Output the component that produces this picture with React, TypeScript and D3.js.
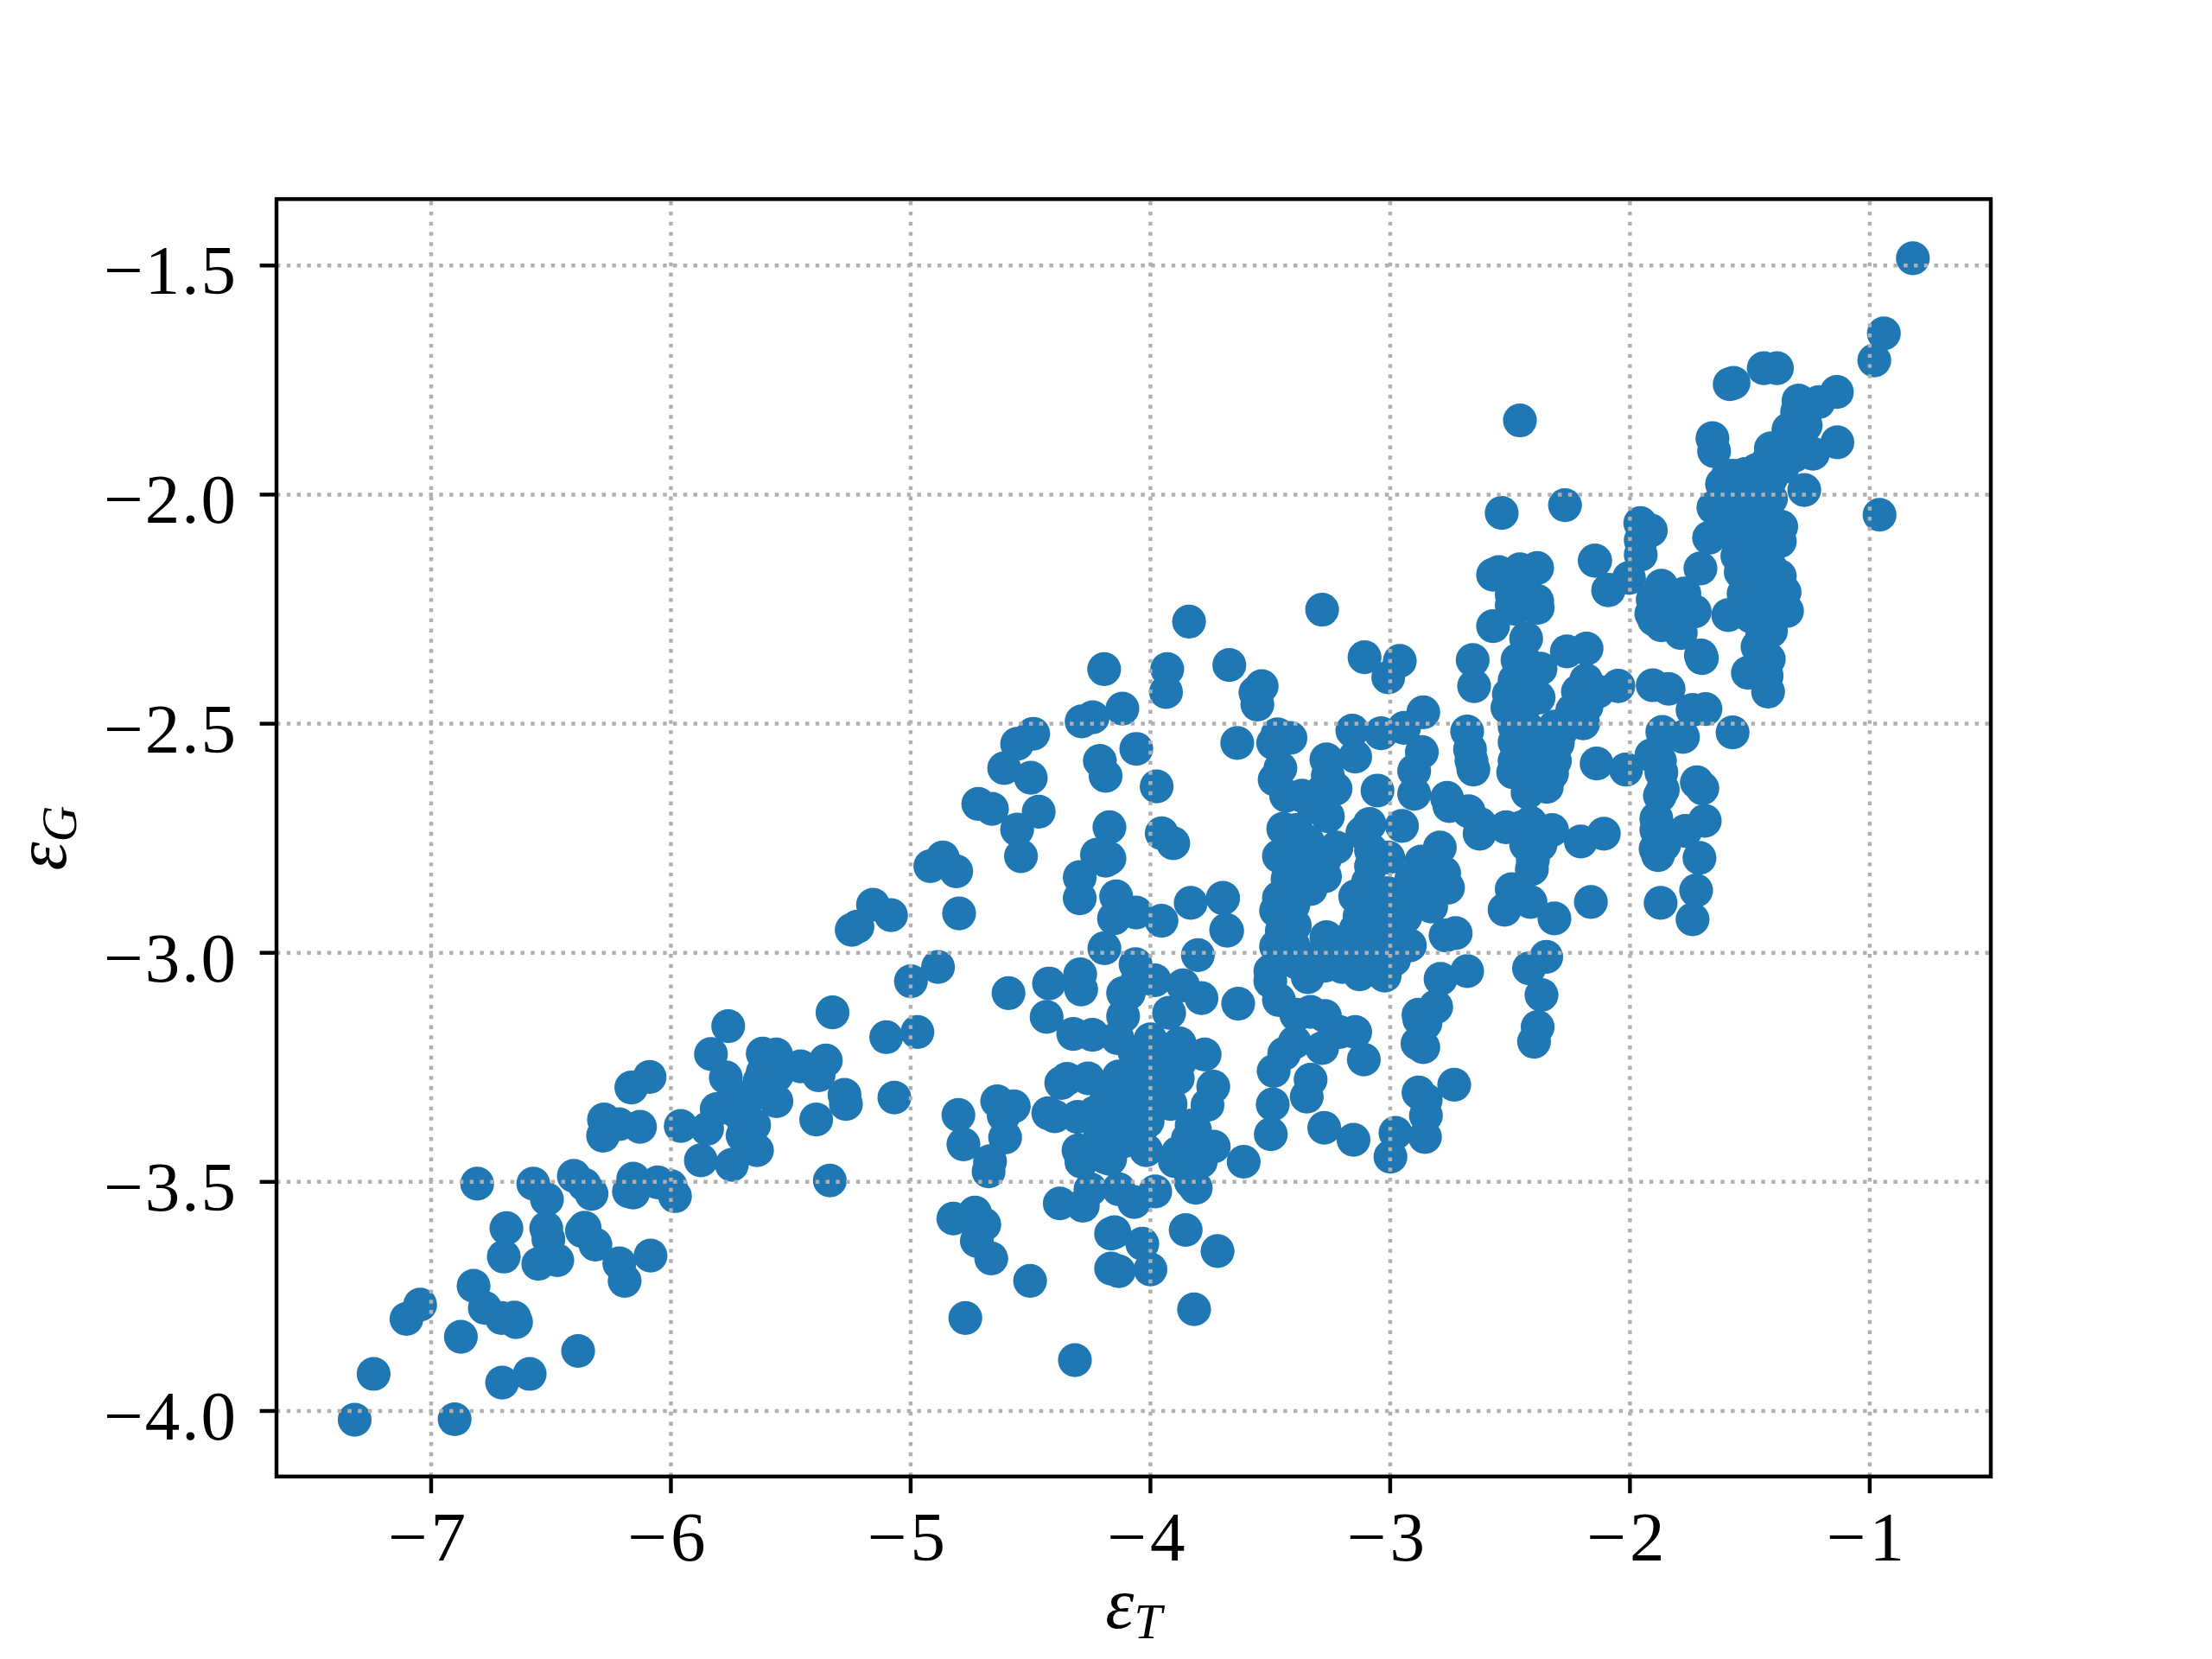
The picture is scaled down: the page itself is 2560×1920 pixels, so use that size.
import * as d3 from "d3";

const WIDTH = 2560;
const HEIGHT = 1920;
const MARGIN = { top: 230.4, right: 256, bottom: 211.2, left: 320 };

// values, [eps_T, eps_G], by region of the cloud
const lowerLeft: [number, number][] = [
  [-7.319, -4.019], [-6.902, -4.018], [-7.24, -3.919], [-6.704, -3.938], [-6.589, -3.919], [-6.387, -3.869],
  [-6.876, -3.838], [-7.103, -3.799], [-7.046, -3.768], [-6.823, -3.727], [-6.776, -3.775], [-6.706, -3.797],
  [-6.653, -3.796], [-6.646, -3.806], [-6.697, -3.663], [-6.686, -3.601], [-6.808, -3.504], [-6.574, -3.504],
  [-6.517, -3.538], [-6.52, -3.601], [-6.511, -3.625], [-6.553, -3.679], [-6.474, -3.671], [-6.36, -3.6],
  [-6.371, -3.607], [-6.315, -3.637], [-6.215, -3.678], [-6.085, -3.661], [-6.193, -3.716], [-6.405, -3.487],
  [-6.361, -3.506], [-6.331, -3.526], [-6.157, -3.493], [-6.175, -3.521], [-6.157, -3.523], [-6.055, -3.501],
  [-6.001, -3.509], [-5.983, -3.531], [-5.959, -3.378], [-6.129, -3.38], [-6.217, -3.374], [-6.279, -3.364],
  [-6.283, -3.399], [-6.165, -3.294], [-6.089, -3.271],
];

const midLeft: [number, number][] = [
  [-5.875, -3.453], [-5.746, -3.463], [-5.849, -3.384], [-5.809, -3.341], [-5.833, -3.221], [-5.771, -3.272],
  [-5.761, -3.16], [-5.737, -3.343], [-5.7, -3.343], [-5.701, -3.399], [-5.653, -3.376], [-5.641, -3.431],
  [-5.617, -3.22], [-5.561, -3.222], [-5.63, -3.28], [-5.558, -3.267], [-5.56, -3.324], [-5.459, -3.248],
  [-5.354, -3.235], [-5.384, -3.267], [-5.276, -3.31], [-5.27, -3.33], [-5.394, -3.364], [-5.337, -3.497],
  [-5.326, -3.13], [-5.157, -2.895], [-5.082, -2.918], [-5.222, -2.943], [-5.246, -2.95], [-5.068, -3.316],
  [-5.102, -3.184], [-4.972, -3.173], [-4.999, -3.062], [-4.886, -3.031], [-4.918, -2.811], [-4.866, -2.792],
  [-4.81, -2.822], [-4.798, -2.914],
];

const upperMid: [number, number][] = [
  [-3.839, -2.277], [-4.193, -2.381], [-3.93, -2.381], [-3.935, -2.431], [-3.671, -2.372], [-4.117, -2.467],
  [-4.241, -2.486], [-4.287, -2.495], [-4.489, -2.522], [-4.556, -2.544], [-4.61, -2.597], [-4.499, -2.618],
  [-4.211, -2.581], [-4.187, -2.614], [-4.059, -2.555], [-3.974, -2.637], [-4.718, -2.675], [-4.661, -2.686],
  [-4.466, -2.692], [-4.556, -2.731], [-4.54, -2.789], [-4.171, -2.726], [-3.953, -2.739], [-3.905, -2.761],
  [-4.223, -2.786], [-4.171, -2.794], [-4.187, -2.799], [-4.295, -2.835], [-4.295, -2.881], [-4.143, -2.877],
  [-4.152, -2.925], [-4.06, -2.912], [-3.954, -2.93], [-3.832, -2.891], [-3.697, -2.881], [-3.684, -2.95],
  [-3.68, -2.952], [-3.698, -2.88],
];

const lowerMid: [number, number][] = [
  [-4.592, -3.088], [-4.192, -2.99], [-4.062, -3.025], [-3.982, -3.06], [-3.802, -3.005], [-4.423, -3.067],
  [-4.293, -3.047], [-4.289, -3.08], [-4.433, -3.14], [-4.322, -3.177], [-4.242, -3.179], [-4.138, -3.186],
  [-4.0, -3.189], [-4.09, -3.088], [-4.114, -3.088], [-4.054, -3.06], [-4.114, -3.138], [-3.922, -3.131],
  [-3.864, -3.071], [-3.787, -3.099], [-3.634, -3.111], [-3.878, -3.198], [-3.774, -3.222], [-3.946, -3.211],
  [-4.348, -3.275], [-4.372, -3.284], [-4.26, -3.274], [-4.132, -3.27], [-4.054, -3.261], [-3.97, -3.261],
  [-3.886, -3.274], [-3.738, -3.292], [-3.762, -3.332], [-3.916, -3.33], [-4.426, -3.35], [-4.399, -3.357],
  [-4.304, -3.358], [-4.198, -3.362], [-4.186, -3.324], [-4.066, -3.33], [-4.012, -3.368], [-4.114, -3.374],
  [-4.162, -3.406], [-4.018, -3.431], [-4.3, -3.431], [-4.288, -3.456], [-4.186, -3.447], [-4.168, -3.45],
  [-4.252, -3.437], [-3.828, -3.377], [-3.844, -3.406], [-3.736, -3.423], [-3.85, -3.421], [-3.898, -3.455],
  [-3.79, -3.456], [-3.85, -3.45], [-3.811, -3.513], [-3.831, -3.5], [-3.611, -3.456], [-4.25, -3.516],
  [-4.132, -3.516], [-4.378, -3.547], [-4.282, -3.552], [-4.068, -3.544], [-3.98, -3.521], [-4.822, -3.58],
  [-4.732, -3.567], [-4.693, -3.593], [-4.724, -3.629], [-4.664, -3.667], [-4.502, -3.716], [-4.15, -3.61],
  [-4.164, -3.613], [-4.034, -3.635], [-3.853, -3.605], [-3.72, -3.651], [-4.164, -3.689], [-4.132, -3.695],
  [-4.0, -3.691], [-4.801, -3.354], [-4.78, -3.418], [-4.639, -3.324], [-4.57, -3.335], [-4.612, -3.355],
  [-4.606, -3.403], [-4.669, -3.455], [-4.675, -3.477], [-3.818, -3.778], [-4.772, -3.797], [-4.315, -3.889],
];

const centre: [number, number][] = [
  [-3.284, -2.251], [-3.536, -2.418], [-3.562, -2.432], [-3.554, -2.458], [-3.638, -2.542], [-3.47, -2.523],
  [-3.416, -2.531], [-3.488, -2.542], [-3.458, -2.597], [-3.482, -2.622], [-3.368, -2.657], [-3.434, -2.657],
  [-3.266, -2.578], [-3.26, -2.613], [-3.228, -2.642], [-3.146, -2.572], [-3.158, -2.515], [-3.038, -2.521],
  [-2.942, -2.509], [-2.862, -2.475], [-3.107, -2.355], [-2.96, -2.363], [-3.008, -2.399], [-2.868, -2.562],
  [-2.9, -2.603], [-2.9, -2.653], [-3.053, -2.646], [-2.951, -2.723], [-3.086, -2.719], [-3.116, -2.738],
  [-2.793, -2.77], [-2.871, -2.801], [-2.775, -2.826], [-2.759, -2.858], [-2.829, -2.899], [-2.865, -2.84],
  [-2.888, -2.877], [-3.008, -2.792], [-3.08, -2.811], [-3.092, -2.845], [-3.146, -2.877], [-3.104, -2.877],
  [-3.008, -2.87], [-2.936, -2.87], [-2.936, -2.921], [-2.984, -2.952], [-3.062, -2.965], [-3.144, -2.949],
  [-3.266, -2.966], [-3.2, -2.977], [-2.918, -2.984], [-2.769, -2.962], [-2.727, -2.957], [-2.679, -3.04],
  [-2.79, -3.057], [-2.811, -3.117], [-2.882, -3.135], [-3.023, -3.05], [-3.128, -3.047], [-3.2, -3.031],
  [-3.272, -3.028], [-3.344, -3.053], [-3.5, -3.04], [-3.5, -3.062], [-3.464, -3.103], [-3.446, -2.729],
  [-3.392, -2.732], [-3.464, -2.789], [-3.356, -2.782], [-3.392, -2.833], [-3.428, -2.839], [-3.272, -2.833],
  [-3.332, -2.861], [-3.464, -2.88], [-3.476, -2.908], [-3.398, -2.94], [-3.476, -2.986], [-3.404, -2.984],
  [-3.224, -2.77], [-3.26, -2.702], [-3.278, -2.644], [-3.32, -2.682], [-3.272, -3.138], [-3.332, -3.129],
  [-3.392, -3.135], [-3.146, -3.173], [-3.11, -3.233], [-3.284, -3.208], [-3.212, -3.173], [-3.398, -3.195],
  [-3.442, -3.22], [-3.486, -3.258], [-3.332, -3.277], [-3.348, -3.314], [-3.49, -3.331], [-3.498, -3.396],
  [-3.275, -3.382], [-3.153, -3.408], [-2.978, -3.393], [-2.999, -3.445], [-2.855, -3.402], [-2.851, -3.355],
  [-2.882, -3.305], [-2.852, -3.321], [-2.733, -3.288], [-2.808, -3.118], [-2.879, -3.145], [-2.853, -3.154],
  [-2.886, -3.198], [-2.862, -3.206],
];

const centreRight: [number, number][] = [
  [-2.656, -2.361], [-2.65, -2.418], [-2.571, -2.287], [-2.679, -2.517], [-2.667, -2.556], [-2.661, -2.581],
  [-2.653, -2.6], [-2.763, -2.662], [-2.753, -2.68], [-2.673, -2.691], [-2.625, -2.719], [-2.627, -2.74],
  [-2.517, -2.726], [-2.451, -2.726], [-2.415, -2.716], [-2.325, -2.732], [-2.373, -2.764], [-2.405, -2.798],
  [-2.409, -2.817], [-2.205, -2.757], [-2.109, -2.74], [-2.163, -2.889], [-2.493, -2.861], [-2.523, -2.906],
  [-2.415, -2.889], [-2.315, -2.925], [-2.349, -3.009], [-2.421, -3.034], [-2.369, -3.092], [-2.385, -3.162],
  [-2.4, -3.194], [-2.433, -2.314], [-2.469, -2.361], [-2.373, -2.38], [-2.263, -2.342], [-2.181, -2.336],
  [-2.183, -2.405], [-2.049, -2.418], [-2.505, -2.436], [-2.511, -2.465], [-2.381, -2.443], [-2.433, -2.455],
  [-2.241, -2.471], [-2.181, -2.462], [-2.195, -2.499], [-2.481, -2.54], [-2.301, -2.543], [-2.373, -2.543],
  [-2.487, -2.606], [-2.325, -2.609], [-2.427, -2.65], [-2.347, -2.638], [-2.397, -2.594], [-2.139, -2.587],
  [-2.017, -2.6], [-2.433, -2.506], [-2.313, -2.506], [-2.481, -2.506], [-2.385, -2.247], [-2.481, -2.248],
  [-2.459, -1.838], [-2.535, -2.04], [-2.271, -2.023], [-2.547, -2.169], [-2.571, -2.175], [-2.459, -2.163],
  [-2.387, -2.16], [-2.493, -2.191], [-2.493, -2.219], [-2.387, -2.232], [-2.484, -2.249], [-2.145, -2.144],
  [-2.091, -2.209], [-2.049, -2.417],
];

const upperRight: [number, number][] = [
  [-0.82, -1.484], [-0.941, -1.648], [-0.981, -1.707], [-0.959, -2.044], [-1.137, -1.776], [-1.135, -1.886],
  [-1.442, -1.724], [-1.387, -1.724], [-1.584, -1.759], [-1.568, -1.756], [-1.297, -1.795], [-1.213, -1.798],
  [-1.303, -1.82], [-1.339, -1.858], [-1.267, -1.849], [-1.412, -1.899], [-1.237, -1.911], [-1.656, -1.877],
  [-1.649, -1.905], [-1.315, -1.915], [-1.273, -1.99], [-1.52, -1.955], [-1.592, -1.959], [-1.616, -1.977],
  [-1.412, -1.965], [-1.472, -1.946], [-1.363, -1.94], [-1.652, -2.028], [-1.592, -2.0], [-1.496, -1.99],
  [-1.412, -2.009], [-1.544, -2.04], [-1.472, -2.034], [-1.67, -2.094], [-1.61, -2.072], [-1.532, -2.084],
  [-1.438, -2.072], [-1.369, -2.07], [-1.375, -2.102], [-1.472, -2.109], [-1.552, -2.134], [-1.484, -2.147],
  [-1.412, -2.16], [-1.538, -2.169], [-1.424, -2.191], [-1.526, -2.216], [-1.355, -2.213], [-1.345, -2.254],
  [-1.448, -2.247], [-1.52, -2.229], [-1.472, -2.266], [-1.59, -2.263], [-1.706, -2.161], [-1.412, -2.298],
  [-1.468, -2.332], [-1.421, -2.359], [-1.508, -2.389], [-1.43, -2.395], [-1.424, -2.43], [-1.7, -2.357],
  [-1.704, -2.351], [-1.572, -2.519],
];

const rightBand: [number, number][] = [
  [-1.957, -2.062], [-1.913, -2.078], [-1.955, -2.1], [-1.955, -2.131], [-2.147, -2.144], [-2.004, -2.182],
  [-2.089, -2.208], [-1.869, -2.199], [-1.773, -2.216], [-1.905, -2.229], [-1.911, -2.26], [-1.899, -2.273],
  [-1.833, -2.266], [-1.73, -2.255], [-1.788, -2.302], [-1.905, -2.416], [-1.839, -2.424], [-1.739, -2.47],
  [-1.685, -2.468], [-1.865, -2.518], [-1.779, -2.529], [-1.911, -2.569], [-1.875, -2.581], [-2.016, -2.6],
  [-1.869, -2.606], [-1.863, -2.644], [-1.875, -2.657], [-1.721, -2.628], [-1.698, -2.641], [-1.89, -2.707],
  [-1.89, -2.732], [-1.893, -2.773], [-1.857, -2.764], [-1.883, -2.787], [-1.769, -2.734], [-1.688, -2.712],
  [-1.71, -2.793], [-1.724, -2.864], [-1.739, -2.927], [-1.872, -2.891],
];

// estimates inside the solid blobs, where single markers can't be told apart
const denseCores: [number, number][] = [
  [-3.344, -2.757], [-3.404, -2.764], [-3.428, -2.808], [-3.344, -2.808], [-3.272, -2.795], [-3.392, -2.864],
  [-3.44, -2.908], [-3.404, -2.896], [-3.08, -2.776], [-3.092, -2.889], [-3.128, -2.921], [-3.056, -2.927],
  [-3.032, -2.87], [-3.032, -2.952], [-2.984, -2.933], [-3.152, -2.994], [-3.056, -2.996], [-2.984, -3.015],
  [-3.08, -3.034], [-3.344, -3.014], [-3.272, -2.996], [-3.212, -3.021], [-3.392, -3.021], [-3.452, -2.952],
  [-2.853, -2.808], [-2.829, -2.858], [-2.912, -2.839], [-2.936, -2.902], [-2.433, -2.764],
  [-4.054, -3.311], [-3.994, -3.311], [-4.114, -3.33], [-4.054, -3.362], [-4.114, -3.412], [-4.042, -3.387],
  [-4.174, -3.349], [-3.994, -3.274], [-3.946, -3.286], [-3.934, -3.324], [-4.066, -3.217], [-4.018, -3.236],
  [-3.874, -3.236], [-4.162, -3.311], [-4.234, -3.349], [-4.21, -3.399], [-4.234, -3.431], [-3.802, -3.412],
  [-3.886, -3.437], [-3.778, -3.425], [-3.814, -3.387],
  [-1.568, -2.021], [-1.472, -2.065], [-1.544, -2.116], [-1.472, -2.185], [-1.375, -2.178], [-1.4, -2.222],
  [-1.496, -2.191], [-1.568, -1.959], [-1.424, -1.927], [-1.351, -1.902], [-1.496, -2.266], [-1.448, -2.304],
  [-1.785, -2.241], [-1.857, -2.241], [-1.869, -2.285],
  [-2.433, -2.367], [-2.433, -2.418], [-2.481, -2.405], [-2.409, -2.556], [-2.313, -2.581], [-2.481, -2.581],
  [-2.433, -2.613], [-2.347, -2.613], [-2.289, -2.518], [-2.217, -2.43], [-2.133, -2.43], [-2.445, -2.21],
  [-2.493, -2.241], [-2.433, -2.241],
  [-5.701, -3.362], [-5.737, -3.311], [-5.617, -3.261], [-5.593, -3.292], [-5.677, -3.318],
];

const points = [
  ...lowerLeft, ...midLeft, ...upperMid, ...lowerMid, ...centre, ...centreRight, ...upperRight, ...rightBand, ...denseCores,
];

const xTicks = [-7, -6, -5, -4, -3, -2, -1];
const yTicks = [-1.5, -2, -2.5, -3, -3.5, -4];

const BLUE = "#1f77b4";
const GRID = "#b0b0b0";
const LW = 4.44; // 0.8pt at 400 dpi
const SERIF = "'Liberation Serif', serif";

const App = () => {
  const boundsW = WIDTH - MARGIN.left - MARGIN.right;
  const boundsH = HEIGHT - MARGIN.top - MARGIN.bottom;
  const x = d3.scaleLinear().domain([-7.645, -0.495]).range([MARGIN.left, MARGIN.left + boundsW]);
  const y = d3.scaleLinear().domain([-4.143, -1.355]).range([MARGIN.top + boundsH, MARGIN.top]);
  const fmtX = d3.format("d");
  const fmtY = d3.format(".1f");
  const bottom = MARGIN.top + boundsH;
  const right = MARGIN.left + boundsW;

  return (
    <svg width={WIDTH} height={HEIGHT} style={{ position: "absolute", left: 0, top: 0, background: "#fff" }}>
      <g>
        {points.map((d, i) => (
          <circle key={i} cx={x(d[0])} cy={y(d[1])} r={19.6} fill={BLUE} />
        ))}
      </g>

      {/* grid sits above the markers */}
      <g stroke={GRID} strokeWidth={LW} strokeDasharray="4.44 7.33" fill="none">
        {xTicks.map((t) => (
          <line key={t} x1={x(t)} x2={x(t)} y1={bottom} y2={MARGIN.top} />
        ))}
        {yTicks.map((t) => (
          <line key={t} x1={MARGIN.left} x2={right} y1={y(t)} y2={y(t)} />
        ))}
      </g>

      <g stroke="#000" strokeWidth={LW}>
        {xTicks.map((t) => (
          <line key={t} x1={x(t)} x2={x(t)} y1={bottom} y2={bottom + 19.4} />
        ))}
        {yTicks.map((t) => (
          <line key={t} x1={MARGIN.left} x2={MARGIN.left - 19.4} y1={y(t)} y2={y(t)} />
        ))}
        <rect x={MARGIN.left} y={MARGIN.top} width={boundsW} height={boundsH} fill="none" strokeLinejoin="miter" />
      </g>

      <g fontFamily={SERIF} fontSize={81} fill="#000">
        {xTicks.map((t) => (
          <text key={t} x={x(t) - 3} y={1806} textAnchor="middle" letterSpacing={4}>
            {fmtX(t)}
          </text>
        ))}
        {yTicks.map((t) => (
          <text key={t} x={275} y={y(t) + 33} textAnchor="end" letterSpacing={2}>
            {fmtY(t)}
          </text>
        ))}
      </g>

      <g fontFamily={SERIF} fill="#000" fontStyle="italic">
        <text x={1312} y={1884} textAnchor="middle" fontSize={84}>
          ε<tspan fontSize={58} dy={12}>T</tspan>
        </text>
        <text transform="translate(76,970) rotate(-90)" textAnchor="middle" fontSize={84}>
          ε<tspan fontSize={58} dy={12}>G</tspan>
        </text>
      </g>
    </svg>
  );
};

export default App;
